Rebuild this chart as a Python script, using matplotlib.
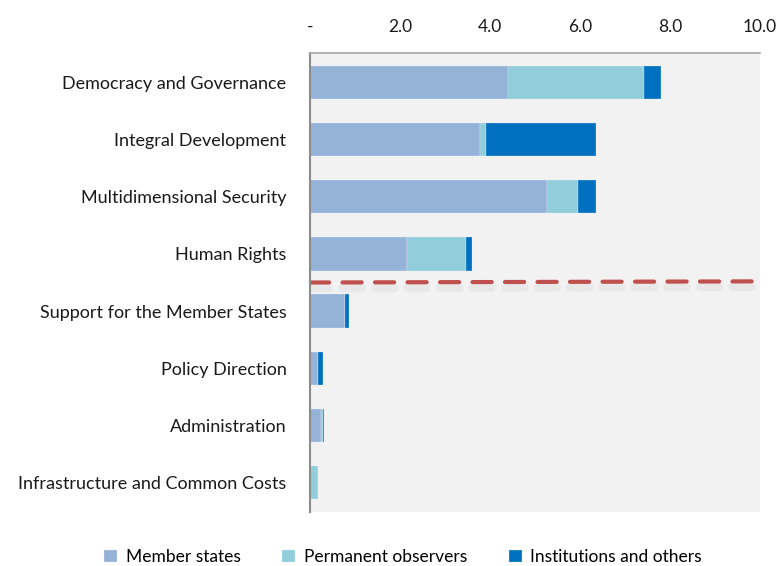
import matplotlib
matplotlib.use("Agg")
import matplotlib.pyplot as plt
import matplotlib.patheffects as pe
import numpy as np

categories = [
    "Democracy and Governance",
    "Integral Development",
    "Multidimensional Security",
    "Human Rights",
    "Support for the Member States",
    "Policy Direction",
    "Administration",
    "Infrastructure and Common Costs",
]
member_states = [4.41, 3.78, 5.27, 2.16, 0.78, 0.18, 0.25, 0.00]
permanent_observers = [3.01, 0.13, 0.68, 1.30, 0.00, 0.00, 0.03, 0.17]
institutions_others = [0.37, 2.45, 0.41, 0.15, 0.08, 0.10, 0.04, 0.00]
series_names = ["Member states", "Permanent observers", "Institutions and others"]
xticks = [0, 2, 4, 6, 8, 10]
xtick_labels = ["-", "2.0", "4.0", "6.0", "8.0", "10.0"]

colors = ["#95B3D7", "#92CDDC", "#0070C0"]

plt.rcParams["font.family"] = ["Lato", "DejaVu Sans"]

fig = plt.figure(figsize=(7.77, 5.66), dpi=100)
ax = fig.add_axes([310 / 777, 1 - 512 / 566, 450 / 777, (512 - 53) / 566])
ax.set_facecolor("#F2F2F2")

y = np.arange(len(categories))
left = np.zeros(len(categories))
for vals, c, name in zip([member_states, permanent_observers, institutions_others],
                         colors, series_names):
    ax.barh(y, vals, left=left, height=0.58, color=c, edgecolor="#e8f0f8",
            linewidth=0.2, label=name)
    left += np.array(vals)

ax.set_ylim(len(categories) - 0.5 + 0.02, -0.5 - 0.02)
ax.set_xlim(0, 10)
ax.set_yticks(y)
ax.set_yticklabels(categories, fontsize=13, color="#1a1a1a")
ax.set_xticks(xticks)
ax.set_xticklabels(xtick_labels, fontsize=12.5, color="#1a1a1a")
ax.xaxis.tick_top()
ax.tick_params(axis="y", length=0, pad=17)
ax.tick_params(axis="x", length=0, pad=13)

for side in ["right", "bottom"]:
    ax.spines[side].set_visible(False)
ax.spines["left"].set_color("#8c8c8c")
ax.spines["left"].set_linewidth(1.5)
ax.spines["top"].set_color("#a6a6a6")
ax.spines["top"].set_linewidth(1.2)

# dashed separator between core pillars and support areas
ax.plot([0.0, 9.95], [3.5, 3.48], color="#C0504D", linewidth=3,
        dashes=(4.6, 3.2), dash_capstyle="round",
        path_effects=[pe.SimpleLineShadow(offset=(0, -4), shadow_color="#c0c0c0", alpha=0.2,
                                          linewidth=6),
                      pe.Normal()])

handles, labels = ax.get_legend_handles_labels()
fig.legend(handles, labels, loc="center", bbox_to_anchor=(403 / 777, 1 - 557 / 566),
           ncol=3, frameon=False, fontsize=12.5, handlelength=0.75,
           handleheight=0.75, columnspacing=2.4, handletextpad=0.5)

fig.savefig("out.png", dpi=100)
